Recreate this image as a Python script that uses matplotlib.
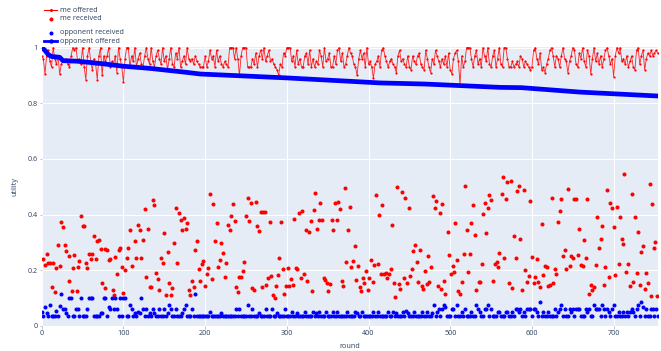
import numpy as np
import matplotlib
matplotlib.use("Agg")
import matplotlib.pyplot as plt
from matplotlib.lines import Line2D

plt.rcParams['font.family'] = ['Open Sans', 'DejaVu Sans']

# ---------------- data ----------------
ROUND_STEP = 2

me_offered = [
    # rounds 0-180
    0.97, 0.96, 0.905, 0.97, 0.99, 0.95, 0.93, 1.0, 0.96, 0.94,
    0.97, 0.905, 0.94, 0.95, 0.95, 0.96, 0.94, 0.93, 0.97, 1.0,
    0.99, 1.0, 0.95, 0.96, 0.94, 1.0, 0.93, 0.885, 0.97, 1.0,
    0.95, 0.92, 0.96, 0.94, 0.885, 0.97, 1.0, 0.9, 0.97, 0.95,
    0.97, 1.0, 0.93, 0.95, 0.94, 0.97, 0.91, 1.0, 0.96, 0.93,
    0.877, 0.96, 1.0, 1.0, 0.93, 0.97, 0.95, 1.0, 0.93, 0.96,
    0.98, 0.94, 0.93, 0.97, 1.0, 0.96, 0.94, 1.0, 0.95, 0.93,
    0.97, 0.99, 0.96, 0.94, 1.0, 0.95, 0.97, 0.92, 0.96, 1.0,
    0.94, 0.93, 0.98, 0.96, 1.0, 0.93, 0.95, 0.97, 0.94, 1.0,
    0.96,
    # rounds 182-474
    0.95, 0.96, 0.94, 0.97, 0.95, 0.94, 0.93, 0.93, 0.93, 0.97,
    0.93, 0.95, 0.99, 0.96, 0.97, 0.93, 0.99, 0.95, 0.97, 0.94,
    0.93, 0.95, 0.94, 0.93, 1.0, 1.0, 1.0, 0.96, 1.0, 0.96,
    0.90, 0.97, 1.0, 1.0, 1.0, 0.93, 0.93, 0.93, 0.96, 0.94,
    0.98, 0.93, 0.97, 0.99, 0.96, 1.0, 0.95, 0.97, 0.99, 0.95,
    0.96, 0.94, 0.93, 0.92, 0.90, 0.94, 0.93, 0.98, 0.97, 1.0,
    1.0, 1.0, 0.95, 0.97, 0.93, 0.99, 0.94, 0.96, 0.93, 0.93,
    0.97, 0.98, 0.94, 0.99, 0.93, 0.96, 0.93, 0.95, 0.94, 0.99,
    0.97, 0.93, 1.0, 0.95, 0.96, 0.98, 0.93, 0.93, 0.97, 0.94,
    0.99, 1.0, 0.95, 0.98, 0.93, 0.94, 0.97, 1.0, 0.98, 0.97,
    0.94, 0.93, 0.90, 0.96, 0.99, 0.96, 0.98, 0.93, 1.0, 0.94,
    0.95, 0.93, 0.89, 0.94, 0.95, 0.97, 0.93, 0.99, 1.0, 0.97,
    0.95, 0.93, 0.95, 0.96, 0.94, 0.93, 0.91, 0.97, 0.99, 0.95,
    0.96, 0.94, 0.93, 0.97, 0.93, 0.92, 0.97, 0.95, 0.94, 0.97,
    0.98, 0.94, 0.93, 0.92, 0.99, 0.96, 0.93,
    # rounds 476-754
    0.91, 0.96, 0.94, 0.99, 0.97, 0.95, 0.93, 0.96, 0.94, 0.97,
    0.93, 0.98, 0.92, 0.905, 0.96, 0.98, 0.99, 0.95, 0.867, 0.97,
    0.93, 0.95, 1.0, 1.0, 1.0, 0.96, 0.93, 0.97, 0.99, 0.94,
    0.96, 0.93, 1.0, 0.97, 0.95, 1.0, 0.94, 0.93, 0.97, 0.99,
    0.93, 0.96, 1.0, 0.94, 0.93, 1.0, 1.0, 0.96, 0.93, 0.93,
    0.95, 0.93, 0.94, 0.95, 0.93, 0.97, 0.96, 0.93, 0.95, 0.94,
    0.93, 0.92, 0.93, 0.99, 1.0, 0.96, 0.94, 0.98, 0.92, 0.93,
    0.91, 0.94, 0.96, 0.99, 1.0, 0.97, 0.93, 0.97, 0.96, 0.93,
    0.97, 1.0, 0.96, 0.95, 0.91, 0.95, 0.97, 1.0, 0.99, 0.94,
    0.93, 0.98, 0.96, 1.0, 0.95, 0.93, 0.99, 0.97, 0.905, 0.96,
    1.0, 0.95, 0.98, 0.94, 0.97, 0.93, 0.96, 0.99, 1.0, 0.97,
    0.94, 0.96, 0.895, 0.97, 1.0, 0.98, 1.0, 0.95, 0.96, 0.94,
    0.97, 0.93, 0.95, 0.97, 0.93, 0.92, 0.99, 1.0, 0.94, 0.97,
    0.99, 0.92, 0.96, 0.98, 0.97, 0.99, 0.97, 0.98, 0.99, 0.98,
]

opp_received = [
    0.05, 0.037, 0.07, 0.045, 0.037, 0.074, 0.037, 0.037, 0.037, 0.055, 0.037, 0.072, 0.114, 0.06, 0.06, 0.045, 0.037, 0.102, 0.102, 0.037,
    0.037, 0.06, 0.06, 0.037, 0.102, 0.037, 0.037, 0.037, 0.06, 0.102, 0.102, 0.102, 0.037, 0.037, 0.037, 0.037, 0.045, 0.045, 0.102, 0.102,
    0.037, 0.07, 0.06, 0.102, 0.06, 0.102, 0.06, 0.037, 0.102, 0.037, 0.102, 0.102, 0.037, 0.037, 0.074, 0.06, 0.037, 0.045, 0.037, 0.05,
    0.045, 0.102, 0.06, 0.037, 0.06, 0.037, 0.045, 0.037, 0.06, 0.045, 0.037, 0.037, 0.06, 0.037, 0.037, 0.06, 0.037, 0.045, 0.074, 0.06,
    0.037, 0.037, 0.06, 0.037, 0.037, 0.037, 0.045, 0.06, 0.074, 0.037, 0.037, 0.037, 0.06, 0.037, 0.115, 0.037, 0.037, 0.037, 0.037, 0.037,
    0.037, 0.037, 0.037, 0.05, 0.037, 0.037, 0.037, 0.037, 0.037, 0.037, 0.045, 0.037, 0.037, 0.037, 0.037, 0.037, 0.037, 0.037, 0.037, 0.06,
    0.037, 0.06, 0.037, 0.037, 0.037, 0.037, 0.074, 0.037, 0.037, 0.06, 0.037, 0.037, 0.037, 0.045, 0.037, 0.037, 0.037, 0.06, 0.037, 0.037,
    0.037, 0.06, 0.037, 0.037, 0.045, 0.037, 0.037, 0.037, 0.037, 0.06, 0.037, 0.037, 0.037, 0.05, 0.037, 0.037, 0.045, 0.037, 0.037, 0.037,
    0.037, 0.05, 0.037, 0.037, 0.037, 0.037, 0.05, 0.037, 0.045, 0.037, 0.05, 0.037, 0.037, 0.037, 0.05, 0.037, 0.037, 0.037, 0.05, 0.037,
    0.037, 0.05, 0.037, 0.037, 0.037, 0.037, 0.037, 0.05, 0.037, 0.037, 0.037, 0.037, 0.05, 0.045, 0.037, 0.037, 0.05, 0.037, 0.037, 0.037,
    0.037, 0.037, 0.037, 0.05, 0.037, 0.037, 0.05, 0.037, 0.037, 0.037, 0.037, 0.037, 0.05, 0.037, 0.037, 0.05, 0.037, 0.045, 0.037, 0.037,
    0.037, 0.05, 0.037, 0.055, 0.045, 0.037, 0.037, 0.037, 0.05, 0.037, 0.037, 0.037, 0.037, 0.05, 0.037, 0.037, 0.05, 0.037, 0.037, 0.045,
    0.074, 0.037, 0.05, 0.06, 0.037, 0.06, 0.074, 0.07, 0.037, 0.037, 0.037, 0.06, 0.06, 0.037, 0.074, 0.037, 0.037, 0.05, 0.037, 0.06,
    0.037, 0.037, 0.037, 0.05, 0.037, 0.037, 0.074, 0.06, 0.05, 0.037, 0.037, 0.06, 0.06, 0.074, 0.037, 0.06, 0.037, 0.037, 0.037, 0.05,
    0.05, 0.037, 0.037, 0.037, 0.05, 0.05, 0.037, 0.037, 0.05, 0.037, 0.06, 0.06, 0.05, 0.06, 0.037, 0.05, 0.037, 0.06, 0.06, 0.06,
    0.037, 0.06, 0.06, 0.05, 0.037, 0.085, 0.037, 0.05, 0.037, 0.037, 0.05, 0.037, 0.037, 0.037, 0.06, 0.037, 0.05, 0.06, 0.074, 0.037,
    0.06, 0.037, 0.037, 0.06, 0.05, 0.06, 0.037, 0.06, 0.06, 0.06, 0.037, 0.037, 0.037, 0.06, 0.05, 0.06, 0.037, 0.037, 0.074, 0.06,
    0.06, 0.06, 0.037, 0.074, 0.06, 0.037, 0.06, 0.05, 0.037, 0.06, 0.074, 0.037, 0.037, 0.05, 0.037, 0.037, 0.05, 0.037, 0.05, 0.037,
    0.05, 0.06, 0.05, 0.037, 0.06, 0.074, 0.037, 0.085, 0.07, 0.037, 0.06, 0.037, 0.037, 0.06, 0.06, 0.037, 0.06, 0.037,
]

me_received_rounds = [
    2, 4, 6, 8, 10, 13, 14, 16, 18, 20, 22, 24, 26, 28, 30, 33, 34, 37, 38, 40,
    43, 44, 46, 48, 50, 52, 54, 56, 58, 60, 62, 64, 66, 68, 70, 72, 74, 77, 78, 80,
    82, 84, 87, 88, 90, 92, 94, 96, 98, 100, 102, 104, 106, 108, 110, 114, 116, 118, 120, 122,
    124, 126, 128, 130, 132, 134, 136, 138, 140, 142, 144,
    146, 148, 150, 152, 154, 156, 158, 160, 162, 164, 166, 168, 170, 172, 174, 176, 178, 180, 182, 184,
    186, 188, 190, 192, 194, 196, 198, 200, 202, 204, 206, 208, 210, 212, 214, 216, 218, 220, 222, 224,
    226, 228, 230, 232, 234, 236, 238, 240, 242, 244, 246, 248, 250, 252, 254, 256, 258, 260, 262, 264,
    266, 268, 270, 271, 273, 275, 277, 279, 281, 283, 286, 287, 289, 291, 293, 295, 297, 299, 301, 303,
    305, 307, 309, 311, 313, 315, 317, 319, 321, 323, 325, 327, 329, 331, 333, 335, 337, 339, 341, 343,
    345, 347, 349, 351, 353,
    355, 357, 359, 361, 363, 365, 367, 369, 371, 373, 375, 377, 379, 381, 383, 385, 387, 389, 391, 393,
    395, 397, 399, 401, 403, 405, 407, 409, 411, 413, 415, 417, 419, 421, 423, 425, 427, 429, 431, 433,
    435, 437, 439, 441, 443, 445, 447, 449, 451, 453, 455, 457, 459, 461, 463, 465, 467, 469, 471, 473,
    474, 477, 479, 481, 483, 485, 487, 489, 490, 492, 494, 497, 499, 501, 503, 505, 506, 508, 510, 512,
    514, 517, 518, 520, 522, 524, 526, 528, 530, 532, 535, 537, 539, 540, 542, 544, 546, 548, 550, 552,
    555, 557, 559, 560,
    563, 564, 566, 568, 570, 572, 574, 576, 578, 580, 582, 584, 586, 588, 590, 592, 594, 596, 598, 600,
    602, 604, 606, 608, 610, 612, 614, 616, 618, 620, 622, 624, 626, 628, 630, 632, 634, 636, 638, 640,
    642, 644, 646, 648, 650, 652, 654, 656, 658, 660, 662, 664, 666, 668, 670, 672, 674, 676, 678, 680,
    682, 684, 686, 688, 690, 692, 694, 696, 698, 700, 702, 704, 706, 708, 710, 712, 713, 715, 718, 720,
    722, 724, 726, 728, 730, 732, 734, 736, 738, 740, 742, 744, 746, 747, 749, 751, 753,
]
me_received = [
    0.24, 0.22, 0.26, 0.225, 0.227, 0.141, 0.228, 0.122, 0.21, 0.29, 0.214, 0.375, 0.356, 0.29, 0.27, 0.16, 0.25, 0.126, 0.21, 0.254,
    0.127, 0.213, 0.235, 0.396, 0.36, 0.36, 0.228, 0.21, 0.26, 0.24, 0.26, 0.324, 0.24, 0.306, 0.31, 0.275, 0.153, 0.135, 0.275, 0.274,
    0.238, 0.24, 0.128, 0.11, 0.248, 0.185, 0.273, 0.28, 0.212, 0.117, 0.202, 0.244, 0.28, 0.344, 0.214, 0.307, 0.245, 0.362, 0.343, 0.245,
    0.31, 0.419, 0.175, 0.348, 0.139, 0.139, 0.452, 0.434, 0.19, 0.17, 0.13,
    0.243, 0.225, 0.335, 0.111, 0.264, 0.153, 0.112, 0.136, 0.299, 0.424, 0.227, 0.407, 0.382, 0.346, 0.388, 0.347, 0.371, 0.128, 0.11, 0.16,
    0.141, 0.273, 0.304, 0.203, 0.16, 0.224, 0.233, 0.142, 0.186, 0.207, 0.473, 0.168, 0.437, 0.306, 0.369, 0.211, 0.236, 0.298, 0.263, 0.175,
    0.227, 0.363, 0.343, 0.394, 0.438, 0.376, 0.14, 0.123, 0.175, 0.175, 0.199, 0.229, 0.395, 0.458, 0.377, 0.44, 0.138, 0.128, 0.444, 0.359,
    0.341, 0.408, 0.139, 0.408, 0.408, 0.148, 0.171, 0.372, 0.18, 0.111, 0.102, 0.144, 0.182, 0.245, 0.373, 0.206, 0.114, 0.145, 0.209, 0.145,
    0.17, 0.146, 0.383, 0.209, 0.203, 0.407, 0.172, 0.414, 0.185, 0.346, 0.161, 0.337, 0.377, 0.124, 0.415, 0.479, 0.348, 0.379, 0.443, 0.379,
    0.171, 0.166, 0.153, 0.126, 0.15,
    0.379, 0.343, 0.44, 0.381, 0.444, 0.421, 0.16, 0.142, 0.497, 0.23, 0.343, 0.426, 0.212, 0.235, 0.287, 0.164, 0.217, 0.141, 0.124, 0.173,
    0.154, 0.199, 0.128, 0.173, 0.238, 0.157, 0.219, 0.469, 0.223, 0.397, 0.188, 0.433, 0.188, 0.19, 0.172, 0.188, 0.203, 0.361, 0.156, 0.103,
    0.501, 0.151, 0.133, 0.483, 0.172, 0.46, 0.154, 0.424, 0.181, 0.205, 0.268, 0.292, 0.23, 0.158, 0.274, 0.144, 0.134, 0.197, 0.152, 0.25,
    0.159, 0.213, 0.466, 0.425, 0.448, 0.145, 0.407, 0.134, 0.439, 0.16, 0.116, 0.336, 0.256, 0.185, 0.215, 0.193, 0.369, 0.238, 0.126, 0.114,
    0.157, 0.257, 0.503, 0.346, 0.195, 0.257, 0.369, 0.433, 0.328, 0.128, 0.158, 0.158, 0.221, 0.404, 0.44, 0.334, 0.422, 0.472, 0.454, 0.16,
    0.223, 0.23, 0.213, 0.262,
    0.474, 0.536, 0.243, 0.455, 0.517, 0.153, 0.522, 0.136, 0.325, 0.245, 0.486, 0.504, 0.312, 0.128, 0.487, 0.2, 0.158, 0.181, 0.45, 0.247,
    0.156, 0.177, 0.241, 0.158, 0.14, 0.367, 0.183, 0.215, 0.212, 0.145, 0.148, 0.46, 0.154, 0.205, 0.187, 0.372, 0.413, 0.455, 0.25, 0.274,
    0.206, 0.493, 0.214, 0.251, 0.246, 0.456, 0.456, 0.255, 0.347, 0.218, 0.215, 0.31, 0.246, 0.457, 0.115, 0.146, 0.131, 0.139, 0.218, 0.39,
    0.281, 0.312, 0.36, 0.148, 0.212, 0.488, 0.176, 0.443, 0.425, 0.354, 0.184, 0.428, 0.221, 0.392, 0.312, 0.293, 0.546, 0.193, 0.224, 0.144,
    0.475, 0.157, 0.392, 0.189, 0.337, 0.146, 0.264, 0.288, 0.134, 0.19, 0.155, 0.51, 0.106, 0.439, 0.279, 0.3, 0.109,
]

opp_offered_rounds = [0, 4, 8, 12, 22, 26, 43, 71, 100, 133, 177, 194, 255, 300, 357, 414, 469, 561, 587, 659, 754]
opp_offered = [1.0, 0.99, 0.975, 0.968, 0.965, 0.953, 0.951, 0.943, 0.933, 0.925, 0.911, 0.905,
               0.897, 0.891, 0.882, 0.873, 0.869, 0.857, 0.856, 0.840, 0.826]

x_ticks = [0, 100, 200, 300, 400, 500, 600, 700]
y_ticks = [0, 0.2, 0.4, 0.6, 0.8, 1.0]
y_tick_labels = ["0", "0.2", "0.4", "0.6", "0.8", "1"]

labels = ["me offered", "me received", "opponent received", "opponent offered"]

# ---------------- figure ----------------
W, H = 661, 351
fig = plt.figure(figsize=(W / 100, H / 100), dpi=100)
fig.patch.set_facecolor("white")

L, R, T, B = 41.7, 658, 47, 326
ax = fig.add_axes([L / W, 1 - B / H, (R - L) / W, (B - T) / H])
ax.set_facecolor("#E5ECF6")
for s in ax.spines.values():
    s.set_visible(False)

RED = "#FF0000"
BLUE = "#0000FF"
TXT = "#2a3f5f"
FS = 5.2

x_me_off = np.arange(len(me_offered)) * ROUND_STEP
x_opp_rec = np.arange(len(opp_received)) * ROUND_STEP

ax.plot(x_me_off, me_offered, color=RED, lw=0.6, alpha=0.85, zorder=3)
ax.plot(x_me_off, me_offered, ls="none", color=RED, marker="o", ms=1.6, mew=0, zorder=3)
ax.plot(me_received_rounds, me_received, ls="none", marker="o", ms=2.9, mew=0, color=RED, zorder=3)
ax.plot(x_opp_rec, opp_received, ls="none", marker="o", ms=2.9, mew=0, color=BLUE, zorder=3)
ax.plot(opp_offered_rounds, opp_offered, color=BLUE, lw=3.4, solid_capstyle="round", zorder=4)

ax.set_xlim(0, 754.3)
ax.set_ylim(0, 1.002)
ax.set_xticks(x_ticks)
ax.set_yticks(y_ticks)
ax.set_yticklabels(y_tick_labels)
ax.grid(True, color="white", lw=0.75, zorder=0)
ax.set_axisbelow(True)
ax.tick_params(axis="both", length=1.8, width=0.6, color="#b0bccc", labelsize=FS,
               labelcolor=TXT, pad=1.2)

fig.text(350 / W, 1 - 346 / H, "round", ha="center", va="center", fontsize=FS, color=TXT)
fig.text(15 / W, 1 - 186 / H, "utility", ha="center", va="center", fontsize=FS,
         color=TXT, rotation=90)

# ---------------- legend (manual, outside plot) ----------------
def fx(px):
    return px / W

def fy(py):
    return 1 - py / H

leg_y = [10, 19, 32.7, 41.3]
x0, x1, xm = 44, 57, 50.5
# me offered
fig.add_artist(Line2D([fx(x0), fx(x1)], [fy(leg_y[0])] * 2, transform=fig.transFigure,
                      color=RED, lw=0.8))
fig.add_artist(Line2D([fx(xm)], [fy(leg_y[0])], transform=fig.transFigure,
                      color=RED, marker="o", ms=2.2, mew=0, ls="none"))
# me received
fig.add_artist(Line2D([fx(xm)], [fy(leg_y[1])], transform=fig.transFigure,
                      color=RED, marker="o", ms=2.9, mew=0, ls="none"))
# opponent received
fig.add_artist(Line2D([fx(xm)], [fy(leg_y[2])], transform=fig.transFigure,
                      color=BLUE, marker="o", ms=2.9, mew=0, ls="none"))
# opponent offered
fig.add_artist(Line2D([fx(x0), fx(x1)], [fy(leg_y[3])] * 2, transform=fig.transFigure,
                      color=BLUE, lw=2.0))
fig.add_artist(Line2D([fx(xm)], [fy(leg_y[3])], transform=fig.transFigure,
                      color=BLUE, marker="o", ms=3.2, mew=0, ls="none"))
for lab, yy in zip(labels, leg_y):
    fig.text(fx(60), fy(yy), lab, ha="left", va="center", fontsize=FS, color=TXT)

fig.savefig("out.png", dpi=100, facecolor="white")
